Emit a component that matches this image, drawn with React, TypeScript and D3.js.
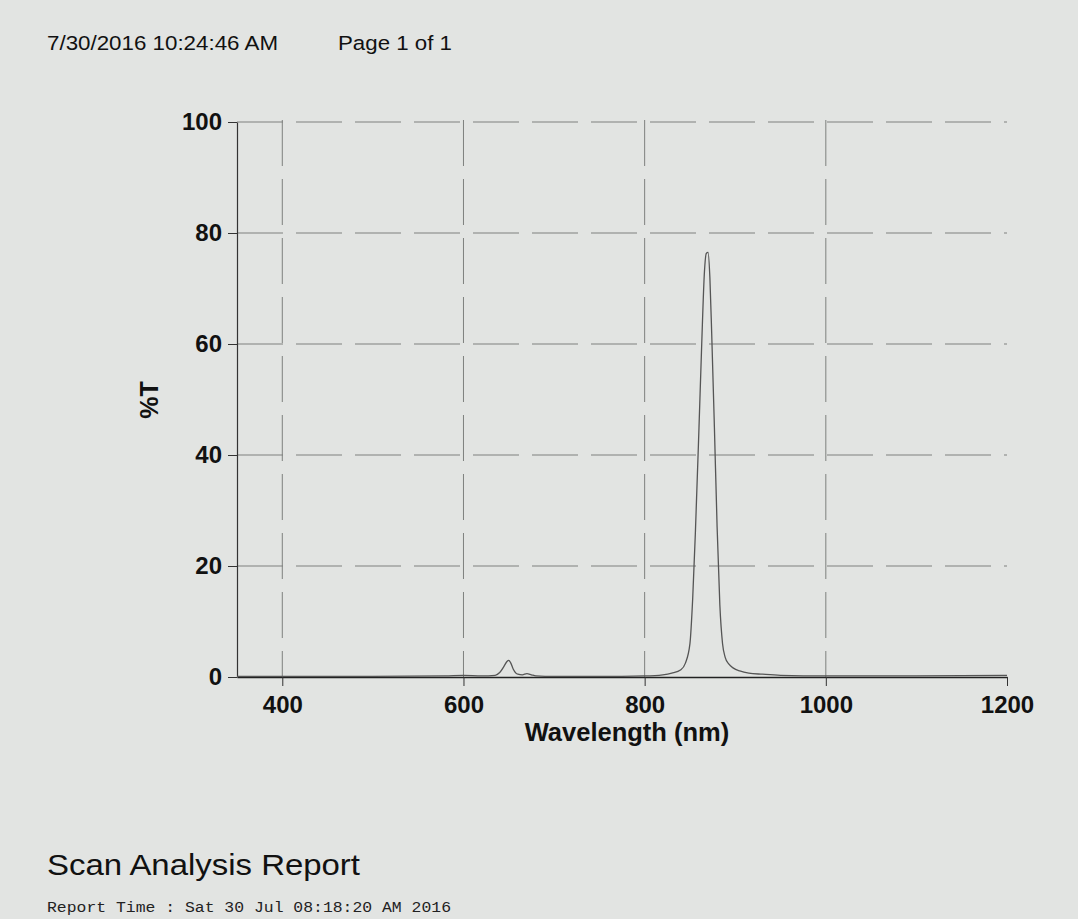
import React, { useEffect, useRef } from 'react';
import * as d3 from 'd3';

// scan values
const wavelengths = [350, 400, 500, 580, 600, 620, 635, 640, 645, 648, 650, 652, 655, 660, 665, 670, 675, 680, 700, 750, 800, 820, 830, 840, 845, 850, 853, 856, 860, 863, 866, 868, 870, 872, 874, 877, 880, 883, 886, 889, 893, 898, 905, 915, 930, 950, 1000, 1100, 1200];
const transmission = [0.1, 0.1, 0.1, 0.2, 0.3, 0.2, 0.3, 0.8, 2.0, 2.8, 3.0, 2.6, 1.4, 0.5, 0.4, 0.6, 0.4, 0.2, 0.1, 0.1, 0.2, 0.4, 0.7, 1.3, 2.5, 6.0, 14, 26, 45, 60, 73, 76.3, 76.5, 72, 62, 45, 27, 13, 6, 3.5, 2.3, 1.6, 1.1, 0.7, 0.5, 0.3, 0.2, 0.2, 0.3];

const xTicks = [400, 600, 800, 1000, 1200];
const xGrid = [400, 600, 800, 1000];
const yTicks = [0, 20, 40, 60, 80, 100];

const headerDate = '7/30/2016 10:24:46 AM';
const headerPage = 'Page 1 of 1';
const reportTitle = 'Scan Analysis Report';
const reportTime = 'Report Time : Sat 30 Jul 08:18:20 AM 2016';

const W = 1078;
const H = 919;
const margin = { top: 122, right: 71, bottom: 242, left: 237 };

const App = () => {
  const svgRef = useRef<SVGSVGElement>(null);

  useEffect(() => {
    const svg = d3.select(svgRef.current);
    svg.selectAll('*').remove();

    const x = d3.scaleLinear().domain([350, 1200]).range([margin.left, W - margin.right]);
    const y = d3.scaleLinear().domain([0, 100]).range([H - margin.bottom, margin.top]);

    svg.append('rect').attr('width', W).attr('height', H).attr('fill', '#e2e4e2');

    const sans = 'Liberation Sans, Arial, sans-serif';

    // header
    svg.append('text').attr('x', 47).attr('y', 50).attr('font-family', sans).attr('font-size', 20.5)
      .attr('textLength', 231).attr('lengthAdjust', 'spacingAndGlyphs').attr('fill', '#111').text(headerDate);
    svg.append('text').attr('x', 338).attr('y', 50).attr('font-family', sans).attr('font-size', 20.5)
      .attr('textLength', 114).attr('lengthAdjust', 'spacingAndGlyphs').attr('fill', '#111').text(headerPage);

    // grid
    const grid = svg.append('g').attr('stroke', '#7e807e').attr('stroke-width', 1).attr('stroke-dasharray', '46,13').attr('fill', 'none');
    grid.selectAll('line.h')
      .data(yTicks.filter(d => d > 0))
      .join('line')
      .attr('class', 'h')
      .attr('x1', x(350)).attr('x2', x(1200))
      .attr('y1', d => y(d)).attr('y2', d => y(d));
    grid.selectAll('line.v')
      .data(xGrid)
      .join('line')
      .attr('class', 'v')
      .attr('x1', d => x(d)).attr('x2', d => x(d))
      .attr('y1', y(100) - 2).attr('y2', y(0));

    // axes
    const xAxis = d3.axisBottom(x).tickValues(xTicks).tickSize(9).tickSizeOuter(0).tickPadding(10).tickFormat(d => String(d));
    const gx = svg.append('g').attr('transform', `translate(0,${y(0)})`).call(xAxis);
    gx.select('.domain').attr('stroke', '#222').attr('stroke-width', 1.6);
    gx.selectAll('.tick line').attr('stroke', '#333');
    gx.selectAll('.tick text').attr('font-family', sans).attr('font-size', 24).attr('font-weight', 'bold').attr('fill', '#111');

    const yAxis = d3.axisLeft(y).tickValues(yTicks).tickSize(9).tickSizeOuter(0).tickPadding(6);
    const gy = svg.append('g').attr('transform', `translate(${x(350)},0)`).call(yAxis);
    gy.select('.domain').attr('stroke', '#333').attr('stroke-width', 1.2);
    gy.selectAll('.tick line').attr('stroke', '#333');
    gy.selectAll('.tick text').attr('font-family', sans).attr('font-size', 24).attr('font-weight', 'bold').attr('fill', '#111');

    // axis titles
    svg.append('text')
      .attr('x', 627).attr('y', 741)
      .attr('text-anchor', 'middle')
      .attr('font-family', sans).attr('font-size', 25.5).attr('font-weight', 'bold').attr('fill', '#111')
      .text('Wavelength (nm)');
    svg.append('text')
      .attr('transform', `translate(158,400) rotate(-90)`)
      .attr('text-anchor', 'middle')
      .attr('font-family', sans).attr('font-size', 25).attr('font-weight', 'bold').attr('fill', '#111')
      .text('%T');

    // spectrum
    const pts = wavelengths.map((w, i) => [w, transmission[i]] as [number, number]);
    const line = d3.line<[number, number]>()
      .x(d => x(d[0]))
      .y(d => y(d[1]))
      .curve(d3.curveMonotoneX);
    svg.append('path')
      .attr('d', line(pts))
      .attr('fill', 'none')
      .attr('stroke', '#555')
      .attr('stroke-width', 1.3);

    // footer
    svg.append('text').attr('x', 47).attr('y', 875).attr('font-family', sans).attr('font-size', 30)
      .attr('textLength', 313).attr('lengthAdjust', 'spacingAndGlyphs').attr('fill', '#111').text(reportTitle);
    svg.append('text').attr('x', 47).attr('y', 912).attr('font-family', 'Liberation Mono, Courier New, monospace').attr('font-size', 15.5)
      .attr('textLength', 404).attr('lengthAdjust', 'spacingAndGlyphs').attr('fill', '#222').text(reportTime);
  }, []);

  return (
    <svg ref={svgRef} width={W} height={H} style={{ position: 'absolute', left: 0, top: 0, display: 'block' }}></svg>
  );
};

export default App;
